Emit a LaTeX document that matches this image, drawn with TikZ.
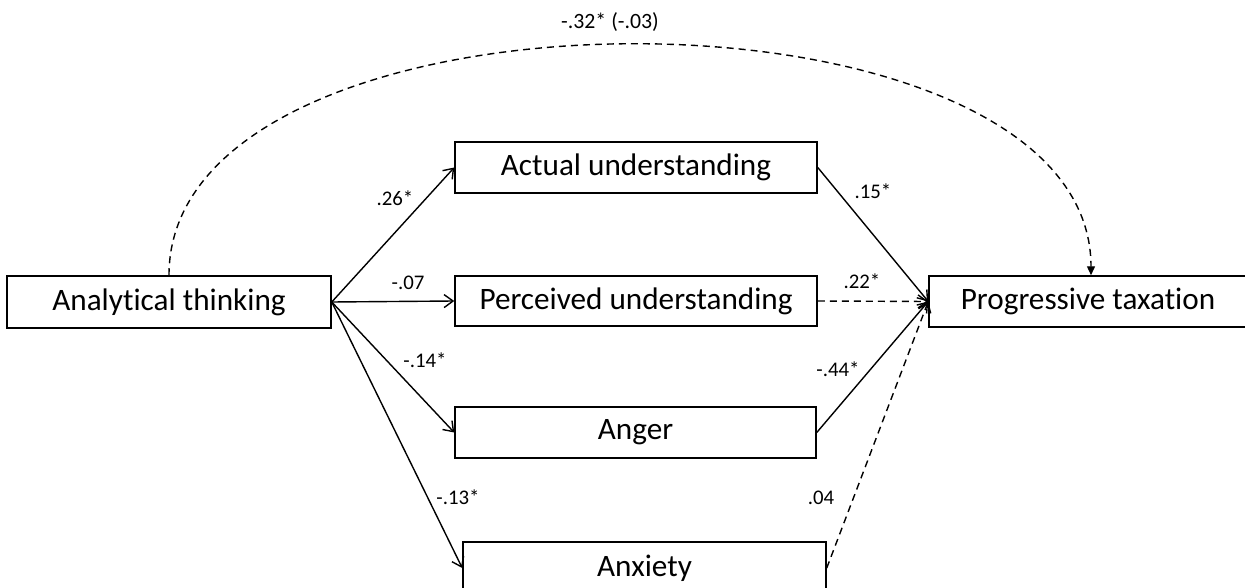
\documentclass[tikz,border=0pt]{standalone}
\usepackage{fontspec}
\setmainfont{Carlito}[Ligatures={NoCommon}]
\usetikzlibrary{arrows.meta}
\begin{document}
\begin{tikzpicture}[x=1pt,y=-1pt,
  box/.style={draw,line width=1.5pt,inner sep=0pt,
    font=\fontsize{31.2}{37}\selectfont},
  coef/.style={inner sep=0pt,font=\fontsize{20.8}{24}\selectfont},
  path/.style={line width=1.4pt,-{Straight Barb[length=9pt,width=13pt,line width=1.4pt]}},
  dashedpath/.style={path,dash pattern=on 7pt off 5pt},
]
% canvas
\clip (0,0) rectangle (1245,588);
\fill[white] (0,0) rectangle (1245,588);

% variables
\node[box,minimum width=324pt,minimum height=52pt] (at)    at (169,302)   {Analytical thinking};
\node[box,minimum width=362pt,minimum height=51pt] (act)   at (636,167.5) {Actual understanding};
\node[box,minimum width=362pt,minimum height=50pt] (perc)  at (636,301)   {Perceived understanding};
\node[box,minimum width=361pt,minimum height=51pt] (anger) at (635.5,432.5) {Anger};
\node[box,minimum width=363pt,minimum height=52pt] (anx)   at (644.5,568) {Anxiety};
\node[box,minimum width=318pt,minimum height=51pt] (prog)  at (1088,301.5) {Progressive taxation};

% a paths
\draw[path] (at.east) -- (act.west);
\draw[path] (at.east) -- (perc.west);
\draw[path] (at.east) -- (anger.west);
\draw[path] (at.east) -- (anx.west);

% b paths
\draw[path] (act.east) -- (prog.west);
\draw[dashedpath] (perc.east) -- (prog.west);
\draw[path] (anger.east) -- (prog.west);
\draw[dashedpath] (anx.east) -- (prog.west);

% direct effect
\draw[line width=1.4pt,dash pattern=on 7pt off 5pt,-{Triangle[length=9pt,width=8pt]}]
  (at.north) .. controls (169,-32) and (1091,-32) .. (prog.north -| 1091,0);

% coefficients
\node[coef] (c1) at (395,198) {.26*};
\node[coef] (c2) at (408,283) {-.07};
\node[coef] (c3) at (425,360) {-.14*};
\node[coef] (c4) at (458,497) {-.13*};
\node[coef] (c5) at (873,191) {.15*};
\node[coef] (c6) at (862,281) {.22*};
\node[coef] (c7) at (838,369) {-.44*};
\node[coef] (c8) at (821,498) {.04};
\node[inner sep=0pt,font=\fontsize{21.8}{25}\selectfont] (c0) at (610,22) {-.32* (-.03)};
\end{tikzpicture}
\end{document}
